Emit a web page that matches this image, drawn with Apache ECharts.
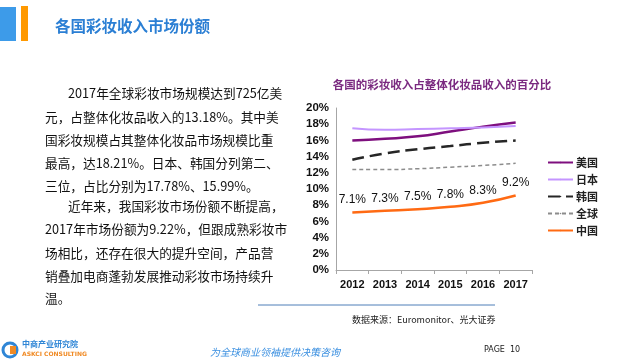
<!DOCTYPE html>
<html><head><meta charset="utf-8">
<script src="https://cdn.jsdelivr.net/npm/echarts@6/dist/echarts.min.js"></script>
<style>html,body{margin:0;padding:0;background:#fff}#c{width:625px;height:360px}</style>
</head><body><div id="c"></div>
<script>
const years = ['2012','2013','2014','2015','2016','2017'];
const usa = [16.0, 16.2, 16.5, 17.1, 17.7, 18.21];
const japan = [17.5, 17.3, 17.4, 17.5, 17.6, 17.78];
const korea = [13.6, 14.4, 14.9, 15.3, 15.7, 15.99];
const world = [12.4, 12.4, 12.5, 12.7, 12.9, 13.18];
const china = [7.1, 7.3, 7.5, 7.8, 8.3, 9.2];
const seriesNames = ['美国','日本','韩国','全球','中国'];
const yTicks = [0, 20, 2];

const bodyLines = [
  {t:'2017年全球彩妆市场规模达到725亿美', x:68, y:93},
  {t:'元，占整体化妆品收入的13.18%。其中美', x:45, y:117},
  {t:'国彩妆规模占其整体化妆品市场规模比重', x:45, y:140},
  {t:'最高，达18.21%。日本、韩国分列第二、', x:45, y:163},
  {t:'三位，占比分别为17.78%、15.99%。', x:45, y:186},
  {t:'近年来，我国彩妆市场份额不断提高，', x:68, y:206},
  {t:'2017年市场份额为9.22%，但跟成熟彩妆市', x:45, y:229},
  {t:'场相比，还存在很大的提升空间，产品营', x:45, y:253},
  {t:'销叠加电商蓬勃发展推动彩妆市场持续升', x:45, y:276},
  {t:'温。', x:45, y:298}
];

const chart = echarts.init(document.getElementById('c'), null, {renderer:'canvas'});
const cjk = '"Noto Sans CJK SC", sans-serif';
const graphics = [
  {type:'rect', shape:{x:0,y:7,width:16,height:34}, style:{fill:'#3d9be9'}},
  {type:'rect', shape:{x:21,y:6,width:7,height:35}, style:{fill:'#ff9900'}},
  {type:'text', x:55, y:26, style:{text:'各国彩妆收入市场份额', fill:'#2b7fd4', font:'bold 15.5px '+cjk, textVerticalAlign:'middle'}},
  {type:'line', shape:{x1:258,y1:305,x2:495,y2:305}, style:{stroke:'#4f7fb8', lineWidth:1}},
  {type:'text', x:352, y:320, style:{text:'数据来源：Euromonitor、光大证券', fill:'#222', font:'9px '+cjk, textVerticalAlign:'middle'}},
  {type:'circle', shape:{cx:10,cy:350,r:7}, style:{fill:'none', stroke:'#2f86d6', lineWidth:3}},
  {type:'rect', shape:{x:10,y:346,width:6,height:8}, style:{fill:'#f08a24'}},
  {type:'text', x:22, y:344, style:{text:'中商产业研究院', fill:'#2f86d6', font:'bold 8px '+cjk, textVerticalAlign:'middle'}},
  {type:'text', x:22, y:354, style:{text:'ASKCI CONSULTING', fill:'#f08a24', font:'bold 6px "DejaVu Sans", sans-serif', textVerticalAlign:'middle'}},
  {type:'text', x:210, y:352, style:{text:'为全球商业领袖提供决策咨询', fill:'#3a8fe0', font:'italic 10px '+cjk, textVerticalAlign:'middle'}},
  {type:'text', x:484, y:350, style:{text:'PAGE  10', fill:'#222', font:'8px "DejaVu Sans", sans-serif', textVerticalAlign:'middle'}},
  {type:'text', x:442, y:85, style:{text:'各国的彩妆收入占整体化妆品收入的百分比', fill:'#7a2a80', font:'bold 11.5px '+cjk, textAlign:'center', textVerticalAlign:'middle'}}
];
bodyLines.forEach(l => graphics.push({type:'text', x:l.x, y:l.y, style:{text:l.t, fill:'#111', font:'12.7px '+cjk, textVerticalAlign:'middle'}}));

function mk(name, data, color, width, type, extra) {
  return Object.assign({
    name, type:'line', data, smooth:true, symbol:'none',
    lineStyle:{color, width, type}, itemStyle:{color}
  }, extra||{});
}

chart.setOption({
  animation:false,
  graphic: graphics,
  grid:{left:336, right:93, top:108, bottom:90},
  legend:{
    orient:'vertical', left:547, top:157, padding:0, itemWidth:25, itemHeight:2, itemGap:6,
    data: seriesNames,
    textStyle:{fontFamily:'"Noto Sans CJK SC"', fontSize:11, fontWeight:'bold', color:'#222', padding:[0,0,0,-2]}
  },
  xAxis:{
    type:'category', data:years, boundaryGap:true,
    axisLine:{lineStyle:{color:'#a6a6a6', width:1}},
    axisTick:{show:true, length:4, lineStyle:{color:'#a6a6a6'}},
    axisLabel:{color:'#111', fontWeight:'bold', fontSize:11, fontFamily:'Arial, "Liberation Sans"', margin:9}
  },
  yAxis:{
    type:'value', min:yTicks[0], max:yTicks[1], interval:yTicks[2],
    axisLine:{show:true, lineStyle:{color:'#a6a6a6', width:1}},
    axisTick:{show:false},
    splitLine:{show:false},
    axisLabel:{formatter:'{value}%', color:'#111', fontWeight:'bold', fontSize:11.5, fontFamily:'Arial, "Liberation Sans"', margin:7}
  },
  series:[
    mk('美国', usa, '#7e0f7e', 2.5, 'solid'),
    mk('日本', japan, '#c495ff', 2, 'solid'),
    mk('韩国', korea, '#262626', 2.5, [12,6]),
    mk('全球', world, '#8c8c8c', 1.5, [4,3]),
    mk('中国', china, '#ff6a13', 2.5, 'solid'),
    {
      name:'中国标签', type:'line', data:china, smooth:true, symbol:'circle', symbolSize:1,
      lineStyle:{opacity:0, width:0}, itemStyle:{color:'rgba(0,0,0,0)'}, silent:true,
      label:{show:true, position:'top', distance:6, formatter:p=>p.value+'%', color:'#111', fontSize:12, fontFamily:'Arial, "Liberation Sans"'}
    }
  ]
});
</script></body></html>
